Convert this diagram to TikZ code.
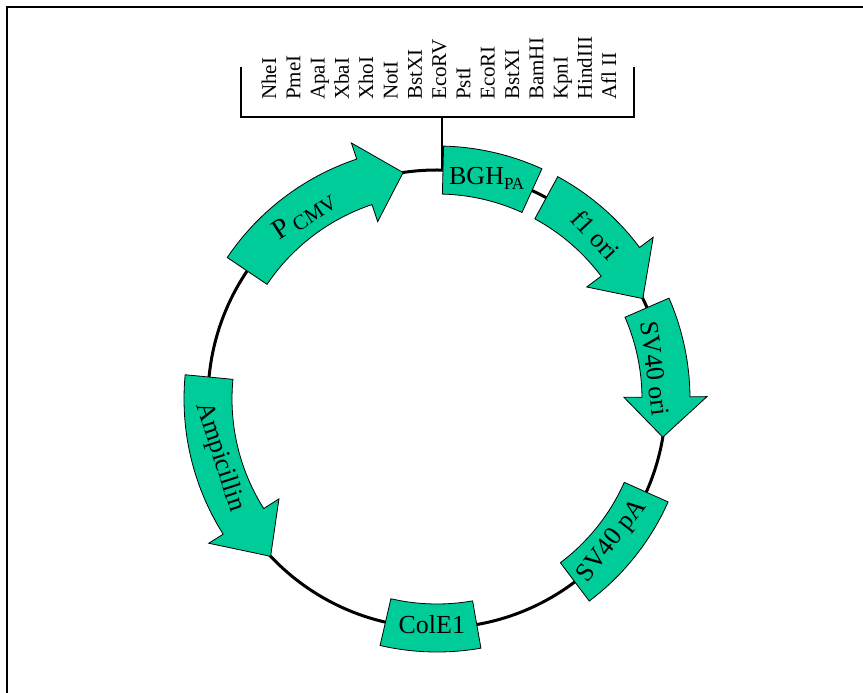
\documentclass[tikz,border=0pt]{standalone}
\usepackage{fontspec}
\setmainfont{Liberation Serif}
\definecolor{featgreen}{RGB}{0,204,153}
\newcommand\featarrow[3]{%
  \draw[feat] (#1:253) arc[start angle=#1,end angle=#2,radius=253] -- (#2:270) -- (#3:229) -- (#2:187) -- (#2:205) arc[start angle=#2,end angle=#1,radius=205] -- cycle;}
\newcommand\featbox[2]{%
  \draw[feat] (#1:253) arc[start angle=#1,end angle=#2,radius=253] -- (#2:205) arc[start angle=#2,end angle=#1,radius=205] -- cycle;}
\begin{document}
\begin{tikzpicture}[x=1pt,y=1pt,
  feat/.style={fill=featgreen,draw=black,line width=0.8pt,line join=miter},
  lab/.style={font=\fontsize{26}{26}\selectfont,inner sep=0pt},
  site/.style={font=\fontsize{21}{21}\selectfont,rotate=90,anchor=base west,inner sep=0pt},
  bracket/.style={line width=2pt}]
\useasboundingbox (0,0) rectangle (863,693);
% frame
\draw[line width=2pt] (7,0) -- (7,686) -- (863,686);
% bracket of restriction sites
\coordinate (brL) at (241,626);
\coordinate (brR) at (634,626);
\coordinate (stemtop) at (442,576);
\coordinate (stembot) at (442,523);
\draw[bracket] (brL) -- (241,576) -- (634,576) -- (brR);
\draw[bracket] (stemtop) -- (stembot);
\foreach \n [count=\i from 0] in {NheI,PmeI,ApaI,XbaI,XhoI,NotI,BstXI,EcoRV,PstI,EcoRI,BstXI,BamHI,KpnI,HindIII,Afl II}
  \node[site] (site\i) at (276+24.3*\i,593) {\n};
\begin{scope}[shift={(437,294)}]
\draw[line width=3pt] (0,0) circle[radius=229];
\featarrow{146}{108.5}{98.5}
\featbox{88.5}{65.5}
\featarrow{61.5}{36.8}{26}
\featarrow{23.5}{0.5}{-9.6}
\featbox{-24}{-53}
\featbox{-80}{-103}
\featarrow{174.5}{212.3}{223.4}
\node[lab,rotate=33] (pcmv) at (126:226) {{\fontsize{28}{28}\selectfont P}\,{\fontsize{21}{21}\selectfont\raisebox{-3pt}{CMV}}};
\node[lab] (bgh) at (77.3:226) {BGH{\fontsize{17}{17}\selectfont\raisebox{-5pt}{PA}}};
\node[lab,rotate=-47] (f1) at (46:228) {f1 ori};
\node[lab,rotate=-83] (sv40ori) at (8:220) {SV40 ori};
\node[lab,rotate=52] (sv40pa) at (-39:226) {SV40 pA};
\node[lab] (cole1) at (-91.3:226) {ColE1};
\node[lab,rotate=-72] (amp) at (195:225) {Ampicillin};
\end{scope}
\end{tikzpicture}
\end{document}
